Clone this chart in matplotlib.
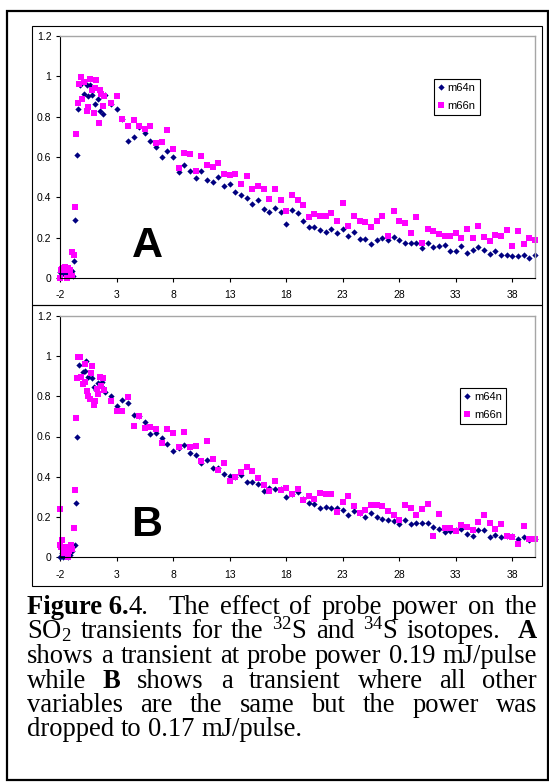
import matplotlib
matplotlib.use("Agg")
import matplotlib.pyplot as plt
from matplotlib.patches import Rectangle

plt.rcParams['font.family'] = ['Liberation Sans', 'DejaVu Sans']
plt.rcParams['mathtext.fontset'] = 'custom'
plt.rcParams['mathtext.rm'] = 'Liberation Serif'
plt.rcParams['mathtext.it'] = 'Liberation Serif:italic'
plt.rcParams['mathtext.bf'] = 'Liberation Serif:bold'
plt.rcParams['mathtext.default'] = 'rm'

# ---- data ----
x_ticks = [-2, 3, 8, 13, 18, 23, 28, 33, 38]
x_tick_labels = ["-2", "3", "8", "13", "18", "23", "28", "33", "38"]
y_ticks = [0, 0.2, 0.4, 0.6, 0.8, 1.0, 1.2]
y_tick_labels = ["0", "0.2", "0.4", "0.6", "0.8", "1", "1.2"]

# common time grid after the peak
t_tail = [2.5, 3.0, 3.5, 4.0, 4.5, 5.0, 5.5, 6.0, 6.5, 7.0, 7.5, 8.0, 8.5, 9.0, 9.5,
          10.0, 10.5, 11.0, 11.5, 12.0, 12.5, 13.0, 13.5, 14.0, 14.5, 15.0, 15.5,
          16.0, 16.5, 17.0, 17.5, 18.0, 18.5, 19.0, 19.5, 20.0, 20.5, 21.0, 21.5,
          22.0, 22.5, 23.0, 23.5, 24.0, 24.5, 25.0, 25.5, 26.0, 26.5, 27.0, 27.5,
          28.0, 28.5, 29.0, 29.5, 30.0, 30.5, 31.0, 31.5, 32.0, 32.5, 33.0, 33.5,
          34.0, 34.5, 35.0, 35.5, 36.0, 36.5, 37.0, 37.5, 38.0, 38.5, 39.0, 39.5, 40.0]

# panel A
a64_head_x = [-2.0, -1.85, -1.7, -1.55, -1.4, -1.25, -1.1, -0.95, -0.85, -0.73, -0.64,
              -0.54, -0.45, -0.26, 0.08, 0.36, 0.48, 0.67, 0.79, 1.1, 1.38, 1.5, 1.78, 1.94]
a64_head_y = [0.03, 0.02, 0.03, 0.02, 0.03, 0.02, 0.03, 0.035, 0.01, 0.085, 0.29,
              0.61, 0.84, 0.955, 0.91, 0.955, 0.90, 0.955, 0.905, 0.864, 0.89, 0.83, 0.815, 0.905]
a64_tail = [0.864, 0.837, 0.79, 0.677, 0.698, 0.748, 0.718, 0.677, 0.648, 0.6, 0.628, 0.6,
            0.527, 0.56, 0.532, 0.494, 0.532, 0.488, 0.478, 0.5, 0.458, 0.464, 0.426, 0.413,
            0.398, 0.366, 0.385, 0.343, 0.325, 0.348, 0.328, 0.269, 0.338, 0.32, 0.282, 0.255,
            0.255, 0.237, 0.227, 0.242, 0.222, 0.242, 0.209, 0.229, 0.194, 0.192, 0.171, 0.187,
            0.196, 0.187, 0.204, 0.187, 0.176, 0.172, 0.176, 0.148, 0.172, 0.154, 0.158, 0.163,
            0.136, 0.133, 0.158, 0.124, 0.141, 0.152, 0.139, 0.121, 0.136, 0.116, 0.116, 0.111,
            0.108, 0.113, 0.1, 0.113]

a66_head_x = [-2.0, -1.95, -1.85, -1.75, -1.65, -1.55, -1.45, -1.35, -1.25, -1.15, -1.05,
              -0.98, -0.9, -0.73, -0.64, -0.57, -0.45, -0.33, -0.14, -0.02, 0.11,
              0.36, 0.48, 0.67, 0.79, 0.98, 1.1, 1.22, 1.41, 1.53, 1.66, 1.78, 1.9]
a66_head_y = [0.0, 0.04, 0.045, 0.05, 0.04, 0.055, 0.05, 0.0, 0.05, 0.04, 0.01,
              0.131, 0.01, 0.114, 0.35, 0.715, 0.867, 0.963, 0.997, 0.887, 0.972,
              0.826, 0.847, 0.985, 0.93, 0.82, 0.944, 0.98, 0.77, 0.934, 0.914, 0.852, 0.902]
a66_tail = [0.867, 0.904, 0.79, 0.756, 0.784, 0.756, 0.74, 0.753, 0.668, 0.673, 0.735, 0.642,
            0.544, 0.619, 0.614, 0.532, 0.604, 0.559, 0.549, 0.569, 0.516, 0.512, 0.516, 0.466,
            0.504, 0.44, 0.456, 0.443, 0.393, 0.44, 0.388, 0.332, 0.411, 0.388, 0.36, 0.303,
            0.315, 0.308, 0.308, 0.32, 0.285, 0.37, 0.259, 0.308, 0.285, 0.28, 0.254, 0.282,
            0.308, 0.207, 0.332, 0.282, 0.272, 0.222, 0.303, 0.176, 0.244, 0.232, 0.217, 0.209,
            0.209, 0.222, 0.197, 0.244, 0.197, 0.257, 0.202, 0.182, 0.211, 0.207, 0.237, 0.161,
            0.234, 0.171, 0.197, 0.186]

# panel B
b64_head_x = [-2.0, -1.9, -1.8, -1.7, -1.6, -1.5, -1.4, -1.3, -1.2, -1.1, -0.9, -0.7, -0.6,
              -0.51, -0.35, -0.01, 0.18, 0.3, 0.49, 0.8, 0.98, 1.2, 1.39, 1.7, 1.82, 1.98]
b64_head_y = [0.0, 0.05, 0.02, 0.0, 0.03, 0.01, 0.04, 0.0, 0.02, 0.01, 0.03, 0.058, 0.27,
              0.60, 0.955, 0.922, 0.924, 0.975, 0.894, 0.89, 0.848, 0.833, 0.864, 0.869, 0.841, 0.82]
b64_tail = [0.80, 0.752, 0.782, 0.767, 0.706, 0.702, 0.673, 0.61, 0.615, 0.595, 0.562, 0.526,
            0.545, 0.557, 0.517, 0.507, 0.466, 0.484, 0.443, 0.443, 0.412, 0.405, 0.40, 0.41,
            0.373, 0.373, 0.365, 0.327, 0.344, 0.337, 0.337, 0.298, 0.312, 0.322, 0.289, 0.268,
            0.263, 0.245, 0.248, 0.245, 0.243, 0.236, 0.21, 0.228, 0.221, 0.198, 0.221, 0.198,
            0.19, 0.183, 0.18, 0.162, 0.185, 0.162, 0.169, 0.169, 0.169, 0.15, 0.139, 0.122,
            0.131, 0.136, 0.137, 0.114, 0.107, 0.132, 0.136, 0.098, 0.112, 0.098, 0.106, 0.104,
            0.088, 0.098, 0.086, 0.089]

b66_head_x = [-2.0, -2.0, -1.9, -1.8, -1.7, -1.6, -1.5, -1.4, -1.3, -1.2, -1.1, -1.0, -0.9,
              -0.76, -0.66, -0.57, -0.5, -0.38, -0.19, -0.12, 0.0, 0.18, 0.24, 0.36, 0.49,
              0.61, 0.77, 0.86, 0.98, 1.1, 1.23, 1.39, 1.51, 1.64, 1.76, 1.85]
b66_head_y = [0.241, 0.06, 0.05, 0.085, 0.02, 0.04, 0.05, 0.02, 0.0, 0.03, 0.05, 0.06, 0.04,
              0.145, 0.336, 0.694, 0.89, 0.997, 0.998, 0.894, 0.861, 0.959, 0.869, 0.828, 0.8,
              0.787, 0.917, 0.952, 0.755, 0.779, 0.836, 0.812, 0.894, 0.853, 0.89, 0.831]
b66_tail = [0.779, 0.729, 0.729, 0.795, 0.651, 0.702, 0.643, 0.646, 0.638, 0.569, 0.635, 0.617,
            0.547, 0.621, 0.547, 0.555, 0.478, 0.579, 0.486, 0.435, 0.466, 0.377, 0.398, 0.423,
            0.448, 0.428, 0.393, 0.357, 0.329, 0.377, 0.332, 0.345, 0.316, 0.339, 0.284, 0.306,
            0.291, 0.321, 0.314, 0.314, 0.223, 0.273, 0.304, 0.255, 0.22, 0.233, 0.26, 0.26,
            0.255, 0.23, 0.208, 0.182, 0.26, 0.245, 0.208, 0.241, 0.263, 0.106, 0.215, 0.144,
            0.142, 0.129, 0.16, 0.147, 0.134, 0.174, 0.21, 0.17, 0.139, 0.165, 0.106, 0.099,
            0.066, 0.152, 0.091, 0.091]

# caption words, *...* marks bold parts
caption_lines = [
    ["*Figure 6.*4.", "The", "effect", "of", "probe", "power", "on", "the"],
    ["SO$_2$", "transients", "for", "the", "$^{32}$S", "and", "$^{34}$S", "isotopes.", "*A*"],
    ["shows", "a", "transient", "at", "probe", "power", "0.19", "mJ/pulse"],
    ["while", "*B*", "shows", "a", "transient", "where", "all", "other"],
    ["variables", "are", "the", "same", "but", "the", "power", "was"],
    ["dropped", "to", "0.17", "mJ/pulse."],
]

NAVY = "#000080"
PINK = "#FF00FF"

fig = plt.figure(figsize=(5.49, 7.82), dpi=100)

# background in pixel coords for frames and caption
bg = fig.add_axes([0, 0, 1, 1], zorder=0)
bg.set_xlim(0, 549)
bg.set_ylim(782, 0)
bg.axis('off')
bg.add_patch(Rectangle((7, 11), 540.5, 769, fill=False, ec='black', lw=1.6))
bg.add_patch(Rectangle((32, 26), 510, 279, fill=False, ec='black', lw=0.8))
bg.add_patch(Rectangle((32, 305), 510, 281, fill=False, ec='black', lw=0.8))


def panel(top_px, bot_px, x64, y64, x66, y66, letter, leg_xy):
    ax = fig.add_axes([60 / 549, 1 - bot_px / 782, 475 / 549, (bot_px - top_px) / 782], zorder=1)
    ax.plot(x64, y64, ls='none', marker='D', ms=3.2, mfc=NAVY, mec=NAVY, mew=0,
            label='m64n', clip_on=False)
    ax.plot(x66, y66, ls='none', marker='s', ms=3.7, mfc=PINK, mec=PINK, mew=0,
            label='m66n', clip_on=False)
    ax.set_xlim(-2, 40)
    ax.set_ylim(0, 1.2)
    ax.set_xticks(x_ticks)
    ax.set_xticklabels(x_tick_labels)
    ax.set_yticks(y_ticks)
    ax.set_yticklabels(y_tick_labels)
    ax.tick_params(axis='x', direction='out', length=3, width=0.8, labelsize=7.5, pad=6)
    ax.tick_params(axis='y', direction='out', length=3, width=0.8, labelsize=7.5, pad=3.2)
    for s in ['top', 'right']:
        ax.spines[s].set_color('#a6a6a6')
        ax.spines[s].set_linewidth(1.0)
    for s in ['left', 'bottom']:
        ax.spines[s].set_color('black')
        ax.spines[s].set_linewidth(0.8)
    ax.text(5.7, 0.105, letter, fontsize=31, fontweight='bold', ha='center', va='baseline')
    leg = ax.legend(loc='upper left', bbox_to_anchor=leg_xy, borderaxespad=0, fontsize=8,
                    fancybox=False, framealpha=1, edgecolor='black', handlelength=0.6,
                    handletextpad=0.3, borderpad=0.35, labelspacing=0.75)
    leg.get_frame().set_linewidth(0.8)
    return ax


panel(36, 278, a64_head_x + t_tail, a64_head_y + a64_tail,
      a66_head_x + t_tail, a66_head_y + a66_tail, 'A', (0.787, 0.822))
panel(316, 557, b64_head_x + t_tail, b64_head_y + b64_tail,
      b66_head_x + t_tail, b66_head_y + b66_tail, 'B', (0.842, 0.701))

# caption, justified between x0 and x1
renderer = fig.canvas.get_renderer()
x0, x1 = 27, 537


def width_of(s, size, weight='normal'):
    t = bg.text(0, 0, s, fontsize=size, family='Liberation Serif', fontweight=weight)
    w = t.get_window_extent(renderer).width
    t.remove()
    return w


# last line is set ragged, so its natural width fixes the font size
fs = 10 * (302 - x0) / width_of(" ".join(caption_lines[-1]), 10)
w_space = width_of("a a", fs) - width_of("aa", fs)


def make_word(word, y):
    parts = word.split('*')
    texts = []
    for k, p in enumerate(parts):
        if p:
            texts.append(bg.text(0, y, p, fontsize=fs, family='Liberation Serif',
                                 fontweight='bold' if k % 2 else 'normal',
                                 ha='left', va='baseline'))
    widths = [t.get_window_extent(renderer).width for t in texts]
    return texts, widths


def place_word(texts, widths, x):
    for t, w in zip(texts, widths):
        t.set_x(x)
        x += w


baselines = [614, 638.5, 663, 687.5, 712, 736.5]
for i, words in enumerate(caption_lines):
    made = [make_word(w, baselines[i]) for w in words]
    wsum = [sum(m[1]) for m in made]
    weights = [2 if w.endswith('.') else 1 for w in words[:-1]]
    if i < len(caption_lines) - 1:
        unit = (x1 - x0 - sum(wsum)) / sum(weights)
    else:
        unit = w_space
    x = x0
    for j, (texts, widths) in enumerate(made):
        place_word(texts, widths, x)
        if j < len(weights):
            x += wsum[j] + unit * weights[j]

fig.savefig("out.png", dpi=100)
